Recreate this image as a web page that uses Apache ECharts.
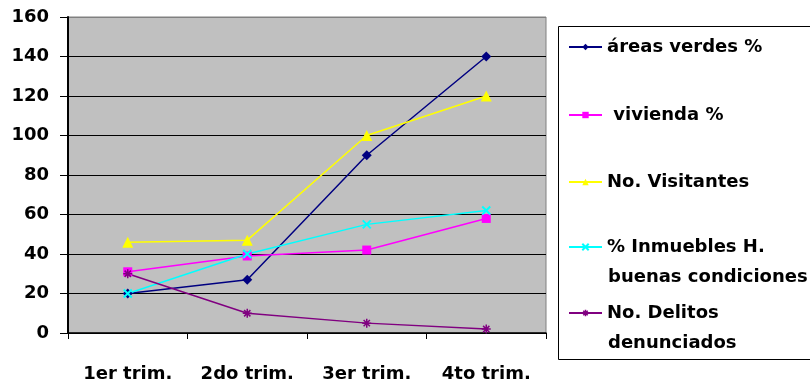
<!DOCTYPE html>
<html>
<head>
<meta charset="utf-8">
<script src="https://cdn.jsdelivr.net/npm/echarts@6/dist/echarts.min.js"></script>
<style>
  html, body { margin: 0; padding: 0; background: #fff; }
  #chart { width: 810px; height: 383px; }
</style>
</head>
<body>
<div id="chart"></div>
<script>
// datos por trimestre
const categories = ['1er trim.', '2do trim.', '3er trim.', '4to trim.'];
const areasVerdes = [20, 27, 90, 140];
const vivienda = [31, 39, 42, 58];
const visitantes = [46, 47, 100, 120];
const inmuebles = [20, 40, 55, 62];
const delitos = [30, 10, 5, 2];
const seriesNames = ['áreas verdes %', ' vivienda %', 'No. Visitantes', '% Inmuebles H.', 'No. Delitos'];

const FONT = 'DejaVu Sans';
const chart = echarts.init(document.getElementById('chart'), null, { renderer: 'canvas' });

const xPath = 'path://M0,0L10,10M10,0L0,10';
const starPath = 'path://M5,0L5,10M0,5L10,5M1.5,1.5L8.5,8.5M8.5,1.5L1.5,8.5';

function lineSeries(name, data, color, symbol, size, extra) {
    return Object.assign({
        name: name,
        type: 'line',
        data: data,
        symbol: symbol,
        symbolSize: size,
        showSymbol: true,
        lineStyle: { color: color, width: 1.5 },
        itemStyle: { color: color, borderColor: color, borderWidth: 0 },
        emphasis: { disabled: true },
        animation: false
    }, extra || {});
}

// leyendas separadas para controlar la posición de cada una
const legendTops = [37, 105, 172, 237, 303];
const legends = seriesNames.map((n, i) => ({
    data: [n],
    left: 568,
    top: legendTops[i],
    padding: 0,
    itemWidth: 33,
    itemHeight: 8,
    itemGap: 0,
    selectedMode: false,
    textStyle: { fontFamily: FONT, fontWeight: 'bold', fontSize: 18, color: '#000', lineHeight: 20 }
}));
// el asterisco necesita trazo propio en la leyenda
legends[4].itemStyle = { color: '#800080', borderColor: '#800080', borderWidth: 1.5 };

const option = {
    backgroundColor: '#fff',
    textStyle: { fontFamily: FONT },
    grid: {
        left: 68, right: 264, top: 17, bottom: 50,
        show: true,
        backgroundColor: '#c0c0c0',
        borderColor: '#808080',
        borderWidth: 1
    },
    legend: legends,
    xAxis: {
        type: 'category',
        data: categories,
        boundaryGap: true,
        axisLine: { lineStyle: { color: '#000', width: 1.5 } },
        axisTick: { show: true, length: 6, lineStyle: { color: '#000' } },
        axisLabel: { interval: 0, hideOverlap: false, margin: 32, color: '#000', fontFamily: FONT, fontWeight: 'bold', fontSize: 18 }
    },
    yAxis: {
        type: 'value',
        min: 0, max: 160, interval: 20,
        axisLine: { show: true, lineStyle: { color: '#000', width: 2 } },
        axisTick: { show: true, length: 8, lineStyle: { color: '#000' } },
        axisLabel: { margin: 19, color: '#000', fontFamily: FONT, fontWeight: 'bold', fontSize: 18 },
        splitLine: { show: true, lineStyle: { color: ['#000', '#000', '#000', '#000', '#000', '#000', '#000', '#000', '#808080'], width: 1 } }
    },
    graphic: [
        { type: 'rect', left: 558, top: 26, shape: { width: 300, height: 333 }, style: { fill: '#fff', stroke: '#000', lineWidth: 1 }, z: -1 },
        { type: 'text', left: 608, top: 268, style: { text: 'buenas condiciones', fontFamily: FONT, fontWeight: 'bold', fontSize: 18, fill: '#000' } },
        { type: 'text', left: 608, top: 334, style: { text: 'denunciados', fontFamily: FONT, fontWeight: 'bold', fontSize: 18, fill: '#000' } }
    ],
    series: [
        lineSeries(seriesNames[0], areasVerdes, '#000080', 'diamond', 10),
        lineSeries(seriesNames[1], vivienda, '#ff00ff', 'rect', 9),
        lineSeries(seriesNames[2], visitantes, '#ffff00', 'triangle', 11),
        lineSeries(seriesNames[3], inmuebles, '#00ffff', xPath, 8, { itemStyle: { color: '#00ffff', borderColor: '#00ffff', borderWidth: 2 } }),
        lineSeries(seriesNames[4], delitos, '#800080', starPath, 9, { itemStyle: { color: '#800080', borderColor: '#800080', borderWidth: 1.5 } })
    ]
};
chart.setOption(option);
</script>
</body>
</html>
